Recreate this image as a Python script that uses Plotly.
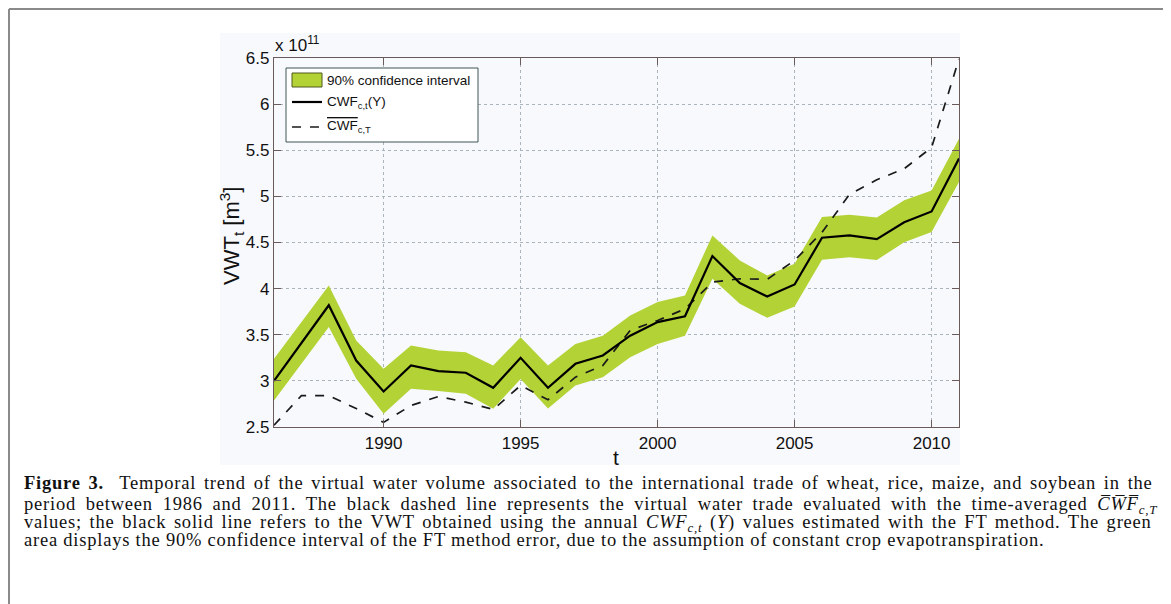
import plotly.graph_objects as go

# ---- data (values in units of 1e11 m^3) ----
years = list(range(1986, 2012))
vwt_annual = [3.00, 3.41, 3.82, 3.22, 2.885, 3.167, 3.105, 3.088, 2.925, 3.25, 2.925, 3.185, 3.275,
              3.49, 3.637, 3.70, 4.353, 4.06, 3.915, 4.045, 4.552, 4.577, 4.537, 4.72, 4.837, 5.41]
vwt_avg = [2.52, 2.84, 2.84, 2.70, 2.55, 2.733, 2.83, 2.77, 2.69, 2.95, 2.795, 3.04, 3.167,
           3.547, 3.655, 3.78, 4.07, 4.107, 4.10, 4.306, 4.61, 5.02, 5.18, 5.30, 5.53, 6.49]
ci_upper = [3.24, 3.64, 4.035, 3.438, 3.131, 3.384, 3.33, 3.31, 3.167, 3.474, 3.167, 3.40, 3.49,
            3.71, 3.854, 3.926, 4.577, 4.306, 4.143, 4.27, 4.776, 4.80, 4.77, 4.957, 5.065, 5.626]
ci_lower = [2.787, 3.185, 3.583, 3.023, 2.643, 2.915, 2.89, 2.86, 2.697, 3.02, 2.70, 2.95, 3.04,
            3.257, 3.40, 3.49, 4.107, 3.836, 3.684, 3.807, 4.313, 4.34, 4.31, 4.504, 4.613, 5.155]
x_ticks = [1990, 1995, 2000, 2005, 2010]
y_ticks = [2.5, 3, 3.5, 4, 4.5, 5, 5.5, 6, 6.5]
legend_labels = ["90% confidence interval", "CWF<sub>c,t</sub>(Y)",
                 '<span style="text-decoration:overline">CWF</span><sub>c,T</sub>']

OFF = 8  # page body margin
W, H = 1171 - OFF, 604 - OFF
# plot area in page pixels
PL, PR, PT, PB = 274, 959, 58, 427
L, R, T, B = PL - OFF, PR - OFF, PT - OFF, PB - OFF


def px(x):
    return (x - OFF - L) / (R - L)


def py(y):
    return (B - (y - OFF)) / (B - T)


GREEN = "#b3d236"
fig = go.Figure()

fig.add_trace(go.Scatter(
    x=years + years[::-1], y=ci_upper + ci_lower[::-1], fill="toself",
    fillcolor=GREEN, line=dict(width=0, color=GREEN), mode="lines",
    name=legend_labels[0], showlegend=False, hoverinfo="skip"))
fig.add_trace(go.Scatter(
    x=years, y=vwt_avg, mode="lines", line=dict(color="#1a1a1a", width=1.7, dash="dash"),
    name=legend_labels[2], showlegend=False))
fig.add_trace(go.Scatter(
    x=years, y=vwt_annual, mode="lines", line=dict(color="#000000", width=2.2),
    name=legend_labels[1], showlegend=False))

AX = "#6a5a5a"
GRID = "#aab4bc"
fig.update_layout(
    width=W, height=H,
    margin=dict(l=L, r=W - R, t=T, b=H - B, pad=0),
    paper_bgcolor="white", plot_bgcolor="#fdfdfe",
    font=dict(family="Liberation Sans, Arial, sans-serif", size=17, color="#111"),
    showlegend=False,
)
fig.update_xaxes(range=[1986, 2011], tickvals=x_ticks, ticks="inside", ticklen=7,
                 tickcolor=AX, showline=True, linecolor=AX, linewidth=1.2, mirror="ticks",
                 showgrid=True, gridcolor=GRID, griddash="dot", gridwidth=1,
                 zeroline=False, tickfont=dict(size=17))
fig.update_yaxes(range=[2.5, 6.5], tickvals=y_ticks, ticks="inside", ticklen=7,
                 tickcolor=AX, showline=True, linecolor=AX, linewidth=1.2, mirror="ticks",
                 showgrid=True, gridcolor=GRID, griddash="dot", gridwidth=1,
                 zeroline=False, tickfont=dict(size=17))

FR = "#8a8a8a"
shapes = [
    # light panel behind chart
    dict(type="rect", xref="paper", yref="paper", x0=px(220), x1=px(960), y0=py(465), y1=py(33),
         fillcolor="#f8f9fc", line=dict(width=0), layer="below"),
    # outer frame (open at bottom)
    dict(type="line", xref="paper", yref="paper", x0=px(9), x1=px(1166), y0=py(9), y1=py(9),
         line=dict(color=FR, width=2)),
    dict(type="line", xref="paper", yref="paper", x0=px(9), x1=px(9), y0=py(9), y1=py(620),
         line=dict(color=FR, width=2)),
    dict(type="line", xref="paper", yref="paper", x0=px(1166), x1=px(1166), y0=py(9), y1=py(620),
         line=dict(color=FR, width=2)),
    # legend box
    dict(type="rect", xref="paper", yref="paper", x0=px(286), x1=px(478), y0=py(142), y1=py(68),
         fillcolor="white", line=dict(color="#3f5555", width=1)),
    # legend swatch: patch
    dict(type="rect", xref="paper", yref="paper", x0=px(292), x1=px(322), y0=py(87), y1=py(73),
         fillcolor=GREEN, line=dict(color="#4f5a1c", width=1)),
    # legend swatch: solid line
    dict(type="line", xref="paper", yref="paper", x0=px(292), x1=px(322), y0=py(102), y1=py(102),
         line=dict(color="#000", width=2.2)),
    # legend swatch: dashed line
    dict(type="line", xref="paper", yref="paper", x0=px(292), x1=px(322), y0=py(127), y1=py(127),
         line=dict(color="#1a1a1a", width=1.7, dash="dash")),
]
fig.update_layout(shapes=shapes)

ann = [
    dict(text="x 10<sup>11</sup>", x=px(273), y=py(57), xanchor="left", yanchor="bottom",
         font=dict(size=17)),
    dict(text="VWT<sub>t</sub> [m<sup>3</sup>]", x=px(232), y=py(236), textangle=-90,
         xanchor="center", yanchor="middle", font=dict(size=22)),
    dict(text="t", x=px(616), y=py(457), xanchor="center", yanchor="middle", font=dict(size=21)),
    dict(text=legend_labels[0], x=px(325), y=py(80), xanchor="left", yanchor="middle",
         font=dict(size=13.5)),
    dict(text=legend_labels[1], x=px(325), y=py(102), xanchor="left", yanchor="middle",
         font=dict(size=13.5)),
    dict(text=legend_labels[2], x=px(325), y=py(126), xanchor="left", yanchor="middle",
         font=dict(size=13.5)),
]
OVL = "\u0305"
cwf_bar = "C" + OVL + "W" + OVL + "F" + OVL
cap_lines = [
    "<b>Figure 3.</b>\u00a0 Temporal trend of the virtual water volume associated to the international trade of wheat, rice, maize, and soybean in the",
    "period between 1986 and 2011. The black dashed line represents the virtual water trade evaluated with the time-averaged "
    "<i>" + cwf_bar + "<sub>c,T</sub></i>",
    "values; the black solid line refers to the VWT obtained using the annual <i>CWF<sub>c,t</sub></i> (<i>Y</i>) values estimated with the FT method. The green",
    "area displays the 90% confidence interval of the FT method error, due to the assumption of constant crop evapotranspiration.",
]
cap_y = [483, 505, 523, 540]
cap_wordspacing = [2.4, 4.4, 2.3, 0]
for t, yy, ws in zip(cap_lines, cap_y, cap_wordspacing):
    txt = '<span style="letter-spacing:0.78px;word-spacing:%.1fpx">%s</span>' % (ws, t)
    ann.append(dict(text=txt, x=px(22), y=py(yy), xanchor="left", yanchor="middle",
                    font=dict(family="Liberation Serif, Times New Roman, serif", size=18.5, color="#111")))
for a in ann:
    a.update(xref="paper", yref="paper", showarrow=False)
fig.update_layout(annotations=ann)

fig.write_html("out.html")
